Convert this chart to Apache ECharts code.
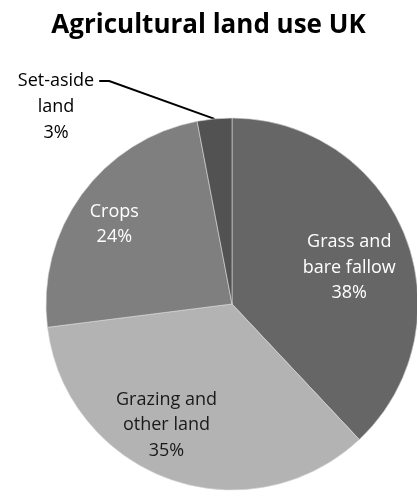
<!DOCTYPE html>
<html>
<head>
    <meta charset="UTF-8">
    <title>Agricultural land use UK</title>
    <script src="https://cdn.jsdelivr.net/npm/echarts@6/dist/echarts.min.js"></script>
    <style>
        html, body { margin: 0; padding: 0; background: #fff; }
        #main { width: 417px; height: 492px; }
    </style>
</head>
<body>
<div id="main"></div>
<script type="text/javascript">
// chart data
var categories = ['Grass and\nbare fallow', 'Grazing and\nother land', 'Crops', 'Set-aside\nland'];
var shares = [38, 35, 24, 3];
var sliceColors = ['#666666', '#b3b3b3', '#7f7f7f', '#525252'];
var labelColors = ['#ffffff', '#1a1a1a', '#ffffff', '#000000'];
// nudges of the in-slice labels from the default middle position
var labelNudge = [[28, -1], [-33, 31], [-40, -23]];

var myChart = echarts.init(document.getElementById('main'));

var labelFont = { fontFamily: 'Open Sans', fontSize: 18, lineHeight: 25.5, align: 'center' };

// main pie; the small slice only carries the first line of its label
var pieData = [];
var restData = [];
for (var i = 0; i < categories.length; i++) {
    var outside = i === 3;
    pieData.push({
        name: categories[i],
        value: shares[i],
        itemStyle: { color: sliceColors[i] },
        label: {
            position: outside ? 'outside' : 'inside',
            color: labelColors[i],
            padding: outside ? [0, 5] : 0,
            formatter: outside
                ? categories[i].split('\n')[0]
                : '{b}\n{c}%'
        },
        labelLine: { show: outside }
    });
    // invisible copy, used for the rest of the small slice's label
    restData.push({
        name: categories[i],
        value: shares[i],
        label: {
            show: outside,
            color: labelColors[i],
            formatter: categories[i].split('\n').slice(1).join('\n') + '\n' + shares[i] + '%'
        }
    });
}

var option = {
    animation: false,
    title: {
        text: 'Agricultural land use UK',
        left: 'center',
        top: 8,
        textStyle: {
            fontFamily: 'Open Sans',
            fontWeight: 'bold',
            fontSize: 26,
            color: '#000'
        }
    },
    series: [{
        type: 'pie',
        center: [232, 304],
        radius: 186,
        startAngle: 90,
        clockwise: true,
        avoidLabelOverlap: false,
        itemStyle: { borderColor: '#d9d9d9', borderWidth: 0.6 },
        label: labelFont,
        labelLine: {
            lineStyle: { color: '#000', width: 2 },
            length: 10,
            length2: 10
        },
        labelLayout: function (p) {
            if (p.dataIndex === 3) {
                return { x: 56, y: 81, align: 'center', verticalAlign: 'middle' };
            }
            var n = labelNudge[p.dataIndex];
            return { dx: n[0], dy: n[1] };
        },
        data: pieData
    }, {
        type: 'pie',
        silent: true,
        center: [232, 304],
        radius: 186,
        startAngle: 90,
        clockwise: true,
        avoidLabelOverlap: false,
        itemStyle: { color: 'rgba(0,0,0,0)', borderWidth: 0 },
        label: labelFont,
        labelLine: { show: false },
        labelLayout: function (p) {
            return { x: 56, y: 120, align: 'center', verticalAlign: 'middle' };
        },
        data: restData
    }]
};

myChart.setOption(option);
</script>
</body>
</html>
